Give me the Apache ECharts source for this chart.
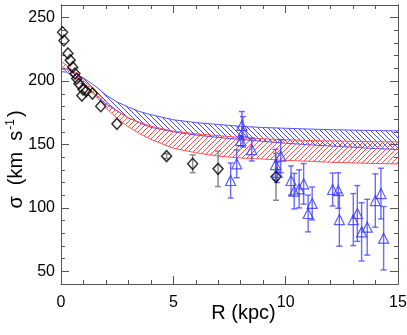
<!DOCTYPE html>
<html><head><meta charset="utf-8">
<script src="https://cdn.jsdelivr.net/npm/echarts@6/dist/echarts.min.js"></script>
<style>html,body{margin:0;padding:0;background:#fff}#c{width:407px;height:335px}</style>
</head><body><div id="c"></div>
<script>
// ---- data ----
const bandX  = [0, 0.25, 0.5, 0.75, 1, 1.5, 2, 2.5, 3, 3.5, 4, 5, 6, 7, 8, 9, 10, 11, 12, 13, 14, 15];
const blueHi = [209.5, 209.5, 207.5, 204.5, 202.5, 196.5, 189, 183.5, 179.5, 176, 173.5, 169.5, 167.3, 165.8, 164.3, 163.4, 162.8, 162.2, 161.7, 161.3, 161, 160.7];
const blueLo = [207.5, 207, 204.5, 201.5, 197.5, 190, 182, 176.5, 171, 167, 163.5, 160, 157.5, 155.5, 154, 152.5, 151, 149.8, 148.8, 147.8, 146.8, 146];
const redHi  = [215.5, 212.5, 208.5, 204.5, 200.5, 192.5, 184, 176.5, 171, 167.5, 164.5, 160.5, 158.5, 157, 155.5, 154.5, 153.8, 153.2, 152.8, 152.5, 152.2, 152];
const redLo  = [211.5, 207.5, 203.5, 199.5, 196.5, 189, 179, 170.5, 164, 158.5, 154, 147, 143.5, 140.8, 139.3, 138.5, 137.5, 136.8, 136, 135.5, 135, 134.7];

// [R, sigma, error]
const diamonds = [
  [0.07, 238.5, 0], [0.13, 232, 0], [0.31, 221.8, 0], [0.41, 216.5, 0], [0.52, 211, 0],
  [0.62, 206, 0], [0.70, 202, 0], [0.80, 198, 0], [0.93, 188.6, 0], [0.98, 193.4, 0],
  [1.12, 192, 0], [1.40, 190.2, 0], [1.77, 180.2, 0], [2.49, 166.3, 0],
  [4.70, 140.8, 2], [5.86, 134.8, 7], [6.99, 130.8, 14], [9.57, 124.5, 18.5]
];
const triangles = [
  [7.55, 121.6, 13.8], [7.82, 134.8, 11], [8.05, 165, 11], [8.10, 160, 12], [8.00, 153, 4],
  [8.49, 146, 9], [9.55, 134.2, 12], [9.62, 128, 8], [9.78, 140.8, 13],
  [10.24, 121.6, 11.5], [10.38, 113.2, 14], [10.60, 115, 15], [10.80, 119, 16],
  [11.00, 95.6, 14.5], [11.18, 103.5, 13], [12.09, 114.5, 13], [12.34, 113.7, 14],
  [12.39, 90.8, 21], [13.01, 90.8, 20.5], [13.19, 95.6, 22], [13.38, 81.1, 23],
  [13.63, 84.8, 22], [13.99, 105.8, 21], [14.24, 111.3, 20], [14.36, 76.1, 25]
];
const yMajorTicks = [50, 100, 150, 200, 250];
const yMinorTicks = [60, 70, 80, 90, 110, 120, 130, 140, 160, 170, 180, 190, 210, 220, 230, 240];

// ---- helpers ----
function hatch(color, forward) {
  const s = 5, c = document.createElement('canvas');
  c.width = s; c.height = s;
  const g = c.getContext('2d');
  g.strokeStyle = color; g.lineWidth = 1;
  g.beginPath();
  if (forward) {
    g.moveTo(0, s); g.lineTo(s, 0);
    g.moveTo(-1, 1); g.lineTo(1, -1);
    g.moveTo(s - 1, s + 1); g.lineTo(s + 1, s - 1);
  } else {
    g.moveTo(0, 0); g.lineTo(s, s);
    g.moveTo(-1, s - 1); g.lineTo(1, s + 1);
    g.moveTo(s - 1, -1); g.lineTo(s + 1, 1);
  }
  g.stroke();
  return c;
}

function bandRender(hi, lo, hatchCanvas, edge) {
  return function (params, api) {
    const up = bandX.map((x, i) => api.coord([x, hi[i]]));
    const dn = bandX.map((x, i) => api.coord([x, lo[i]]));
    const poly = up.concat(dn.slice().reverse());
    return { type: 'group', children: [
      { type: 'polygon', shape: { points: poly }, style: { fill: { image: hatchCanvas, repeat: 'repeat' }, stroke: null } },
      { type: 'polyline', shape: { points: up }, style: { stroke: edge, lineWidth: 1, fill: null } },
      { type: 'polyline', shape: { points: dn }, style: { stroke: edge, lineWidth: 1, fill: null } }
    ]};
  };
}

function errRender(color, lw) {
  return function (params, api) {
    const x = api.value(0), y = api.value(1), e = api.value(2);
    if (!e) return null;
    const t = api.coord([x, y + e]), b = api.coord([x, y - e]);
    const w = 3;
    const st = { stroke: color, lineWidth: lw };
    return { type: 'group', children: [
      { type: 'line', shape: { x1: t[0], y1: t[1], x2: b[0], y2: b[1] }, style: st },
      { type: 'line', shape: { x1: t[0] - w, y1: t[1], x2: t[0] + w, y2: t[1] }, style: st },
      { type: 'line', shape: { x1: b[0] - w, y1: b[1], x2: b[0] + w, y2: b[1] }, style: st }
    ]};
  };
}

const FONT = 'Liberation Sans';
const AX = '#555';
const baseX = {
  type: 'value', min: 0, max: 15, interval: 5,
  axisLine: { show: true, lineStyle: { color: AX, width: 1 } },
  axisTick: { show: true, inside: true, length: 8, lineStyle: { color: AX } },
  minorTick: { show: true, splitNumber: 5, length: 4, lineStyle: { color: AX } },
  splitLine: { show: false }, minorSplitLine: { show: false }
};
function yAx(pos, ticks, len, labels) {
  return {
    type: 'value', min: 40, max: 260, position: pos,
    axisLine: { show: true, lineStyle: { color: AX, width: 1 } },
    axisTick: { show: true, inside: true, length: len, customValues: ticks, lineStyle: { color: AX } },
    axisLabel: labels ? { show: true, customValues: yMajorTicks, color: '#000', fontFamily: FONT, fontSize: 16, margin: 6 } : { show: false },
    splitLine: { show: false }
  };
}

const chart = echarts.init(document.getElementById('c'), null, { renderer: 'canvas' });
chart.setOption({
  animation: false,
  backgroundColor: '#fff',
  grid: { left: 61, right: 9, top: 5, bottom: 51, containLabel: false, outerBoundsMode: 'none' },
  xAxis: [
    Object.assign({}, baseX, {
      position: 'bottom',
      axisLabel: { color: '#000', fontFamily: FONT, fontSize: 16, margin: 11 },
      name: 'R (kpc)', nameLocation: 'middle', nameGap: 19, nameMoveOverlap: false,
      nameTextStyle: { color: '#000', fontFamily: FONT, fontSize: 20, padding: [0, 0, 0, 28] }
    }),
    Object.assign({}, baseX, { position: 'top', axisLabel: { show: false } })
  ],
  yAxis: [
    Object.assign(yAx('left', yMajorTicks, 8, true), {
      name: '{a|σ  (km  s}{b|-1}{a|)}', nameLocation: 'middle', nameGap: 34, nameMoveOverlap: false,
      nameTextStyle: {
        color: '#000', fontFamily: FONT, fontSize: 20, padding: [0, 30, 0, 0],
        rich: {
          a: { fontFamily: FONT, fontSize: 20, color: '#000', lineHeight: 22 },
          b: { fontFamily: FONT, fontSize: 12, color: '#000', verticalAlign: 'top', lineHeight: 22, padding: [0, 2, 10, 1] }
        }
      }
    }),
    yAx('left', yMinorTicks, 4, false),
    yAx('right', yMajorTicks, 8, false),
    yAx('right', yMinorTicks, 4, false)
  ],
  series: [
    { type: 'custom', data: [[bandX[0], blueHi[0]]], renderItem: bandRender(blueHi, blueLo, hatch('rgba(40,40,255,0.85)', false), '#5555ff'), z: 1 },
    { type: 'custom', data: [[bandX[0], redHi[0]]], renderItem: bandRender(redHi, redLo, hatch('rgba(255,50,50,0.85)', true), '#ff5555'), z: 2 },
    { type: 'custom', data: diamonds, encode: { x: 0, y: 1 }, renderItem: errRender('#8a8a8a', 1.5), z: 3 },
    { type: 'custom', data: triangles, encode: { x: 0, y: 1 }, renderItem: errRender('rgba(70,70,255,0.8)', 1.4), z: 3 },
    { type: 'scatter', data: diamonds.map(d => [d[0], d[1]]), symbol: 'diamond', symbolSize: [10, 11],
      itemStyle: { color: 'rgba(0,0,0,0)', borderColor: '#000', borderWidth: 1.5 }, z: 5 },
    { type: 'scatter', data: triangles.map(d => [d[0], d[1]]), symbol: 'triangle', symbolSize: [10, 10],
      itemStyle: { color: 'rgba(0,0,0,0)', borderColor: '#3333ff', borderWidth: 1.2 }, z: 5 }
  ]
});
</script></body></html>
